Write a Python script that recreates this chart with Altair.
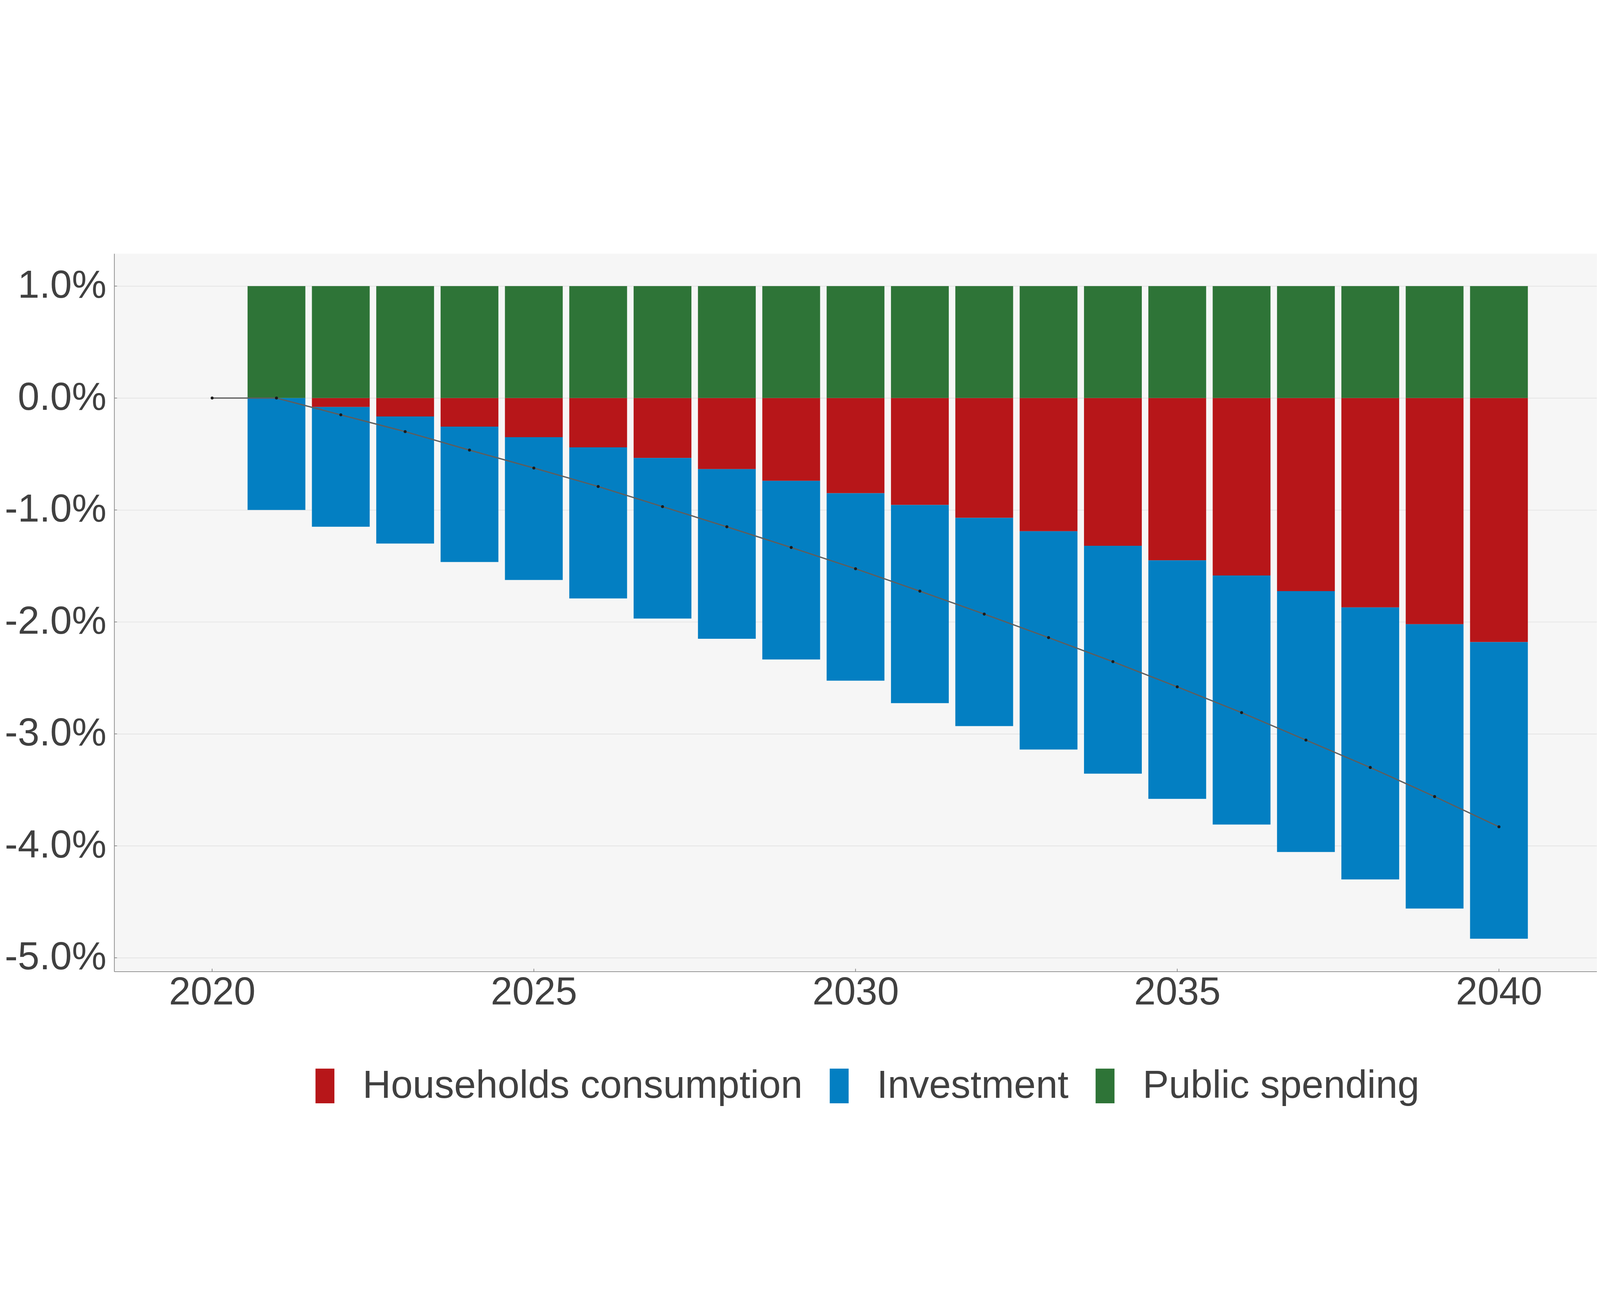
import altair as alt
import pandas as pd

# ---- data (percent of GDP) ----
years = list(range(2021, 2041))
categories = ["Households consumption", "Investment", "Public spending"]
colors = ["#B71619", "#037FC2", "#2E7437"]

households = [0.0, -0.08, -0.165, -0.255, -0.35, -0.44, -0.535, -0.635, -0.74, -0.85,
              -0.955, -1.07, -1.19, -1.32, -1.45, -1.585, -1.725, -1.87, -2.02, -2.18]
investment = [-1.0, -1.07, -1.135, -1.21, -1.275, -1.35, -1.435, -1.515, -1.595, -1.675,
              -1.77, -1.86, -1.95, -2.035, -2.13, -2.225, -2.33, -2.43, -2.54, -2.65]
public = [1.0] * 20

line_years = list(range(2020, 2041))
net_total = [0.0, 0.0, -0.15, -0.30, -0.465, -0.625, -0.79, -0.97, -1.15, -1.335, -1.525,
             -1.725, -1.93, -2.14, -2.355, -2.58, -2.81, -3.055, -3.30, -3.56, -3.83]

y_ticks = [-5, -4, -3, -2, -1, 0, 1]
x_ticks = [2020, 2025, 2030, 2035, 2040]

rows = []
for i, yr in enumerate(years):
    rows.append({"year": yr, "category": categories[0], "value": households[i], "ord": 0})
    rows.append({"year": yr, "category": categories[1], "value": investment[i], "ord": 1})
    rows.append({"year": yr, "category": categories[2], "value": public[i], "ord": 2})
bars_df = pd.DataFrame(rows)
line_df = pd.DataFrame({"year": line_years, "total": net_total})
ytick_df = pd.DataFrame({"v": y_ticks})
xtick_df = pd.DataFrame({"yr": x_ticks})

W, H = 5259, 2546
FONT = "Liberation Sans"
TXT = "#404040"
AXC = "#888888"

x_scale = alt.Scale(domain=[2018.5, 2041.5], nice=False, zero=False)
y_scale = alt.Scale(domain=[-5.123, 1.29], nice=False, zero=False)

x_axis = alt.Axis(values=x_ticks, format="d", title=None, grid=False, ticks=False,
                  labelPadding=7, labelFontSize=138, labelColor=TXT, labelFont=FONT,
                  labelLimit=2000, labelOverlap=False,
                  domainColor=AXC, domainWidth=2.5)
y_axis = alt.Axis(values=y_ticks, title=None, grid=True, gridColor="#DEDEDE", gridWidth=2,
                  ticks=False, labelPadding=28, labelFontSize=138, labelColor=TXT, labelFont=FONT,
                  labelLimit=2000, labelOverlap=False,
                  domainColor=AXC, domainWidth=2.5,
                  labelExpr="(datum.value < 0 ? '-' : '') + format(abs(datum.value), '.1f') + '%'")

bars = alt.Chart(bars_df).mark_bar(size=205).encode(
    x=alt.X("year:Q", scale=x_scale, axis=x_axis),
    y=alt.Y("value:Q", scale=y_scale, axis=y_axis, stack="zero"),
    color=alt.Color("category:N",
                    scale=alt.Scale(domain=categories, range=colors),
                    legend=alt.Legend(title=None, orient="none", direction="horizontal",
                                      legendX=678, legendY=2882,
                                      labelFontSize=139, labelFont=FONT, labelColor=TXT,
                                      labelLimit=4000, labelOffset=64, columnPadding=60,
                                      symbolType="M-0.545,-1L0.545,-1L0.545,1L-0.545,1Z",
                                      symbolSize=15129, symbolStrokeWidth=0)),
    order=alt.Order("ord:Q"),
)

line = alt.Chart(line_df).mark_line(color="#5E5E5E", strokeWidth=4.5).encode(
    x=alt.X("year:Q", scale=x_scale),
    y=alt.Y("total:Q", scale=y_scale),
)
pts = alt.Chart(line_df).mark_point(filled=True, color="#1A1A1A", size=110, opacity=1).encode(
    x=alt.X("year:Q", scale=x_scale),
    y=alt.Y("total:Q", scale=y_scale),
)

# small inward tick marks on both axes
yticks_in = alt.Chart(ytick_df).mark_rule(color=AXC, strokeWidth=2.5).encode(
    y=alt.Y("v:Q", scale=y_scale),
    x=alt.value(0), x2=alt.value(10),
)
xticks_in = alt.Chart(xtick_df).mark_rule(color=AXC, strokeWidth=2.5).encode(
    x=alt.X("yr:Q", scale=x_scale),
    y=alt.value(H), y2=alt.value(H - 10),
)

chart = alt.layer(bars, line, pts, yticks_in, xticks_in).properties(
    width=W, height=H,
    autosize=alt.AutoSizeParams(type="none"),
    padding={"left": 394, "top": 254, "right": 0, "bottom": 491},
    background="white",
).configure_view(fill="#F6F6F6", stroke=None)

chart.save("out.html", embed_options={"renderer": "svg", "actions": False})
